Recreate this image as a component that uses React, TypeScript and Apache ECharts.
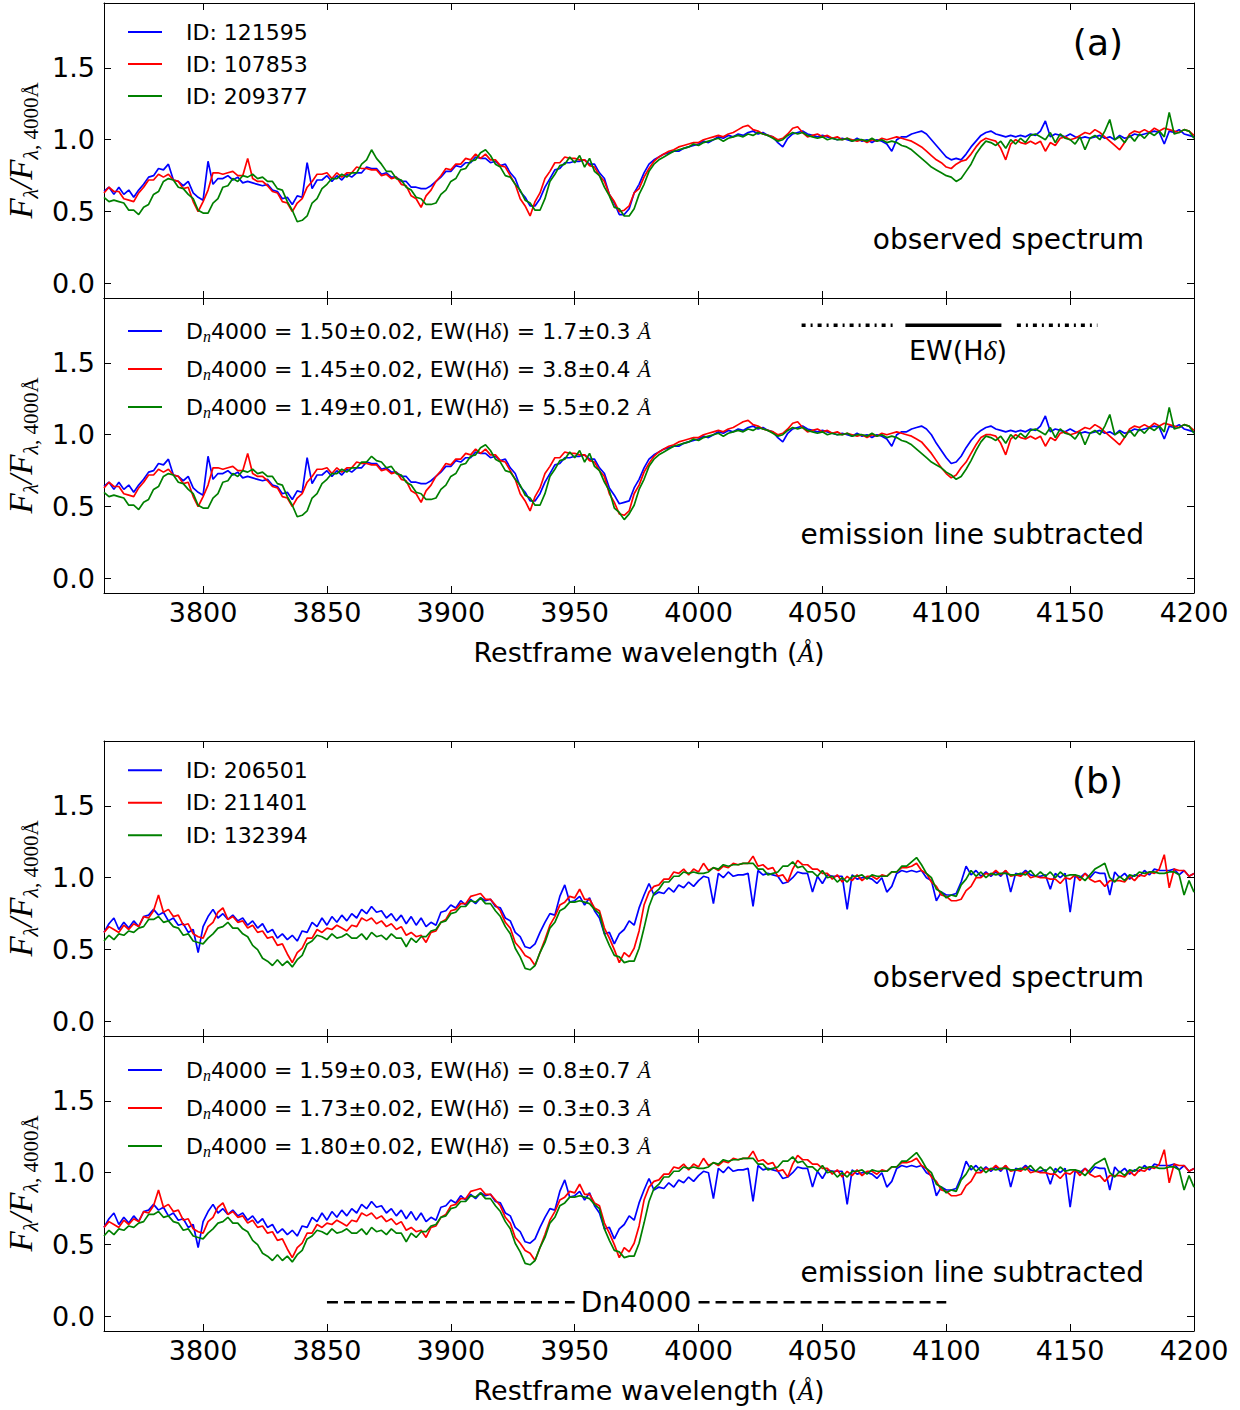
import React, { useEffect, useRef } from "react";
import * as echarts from "echarts";

// ---------- sampling grid (restframe wavelength, Å) ----------
const WAVE_START = 3760;
const WAVE_STEP = 2;
const N_POINTS = 221;
const WAVES: number[] = Array.from({ length: N_POINTS }, (_, i) => WAVE_START + WAVE_STEP * i);

const X_MIN = 3760;
const X_MAX = 4200;
const Y_MIN = -0.1;
const Y_MAX = 1.95;
const X_TICKS = [3800, 3850, 3900, 3950, 4000, 4050, 4100, 4150, 4200];
const Y_TICKS = [0, 0.5, 1.0, 1.5];

// ---------- panel (a): observed ----------
const a1Blue = [
  0.64, 0.67, 0.62, 0.67, 0.62, 0.65, 0.60, 0.65, 0.69, 0.74,
  0.75, 0.80, 0.79, 0.83, 0.72, 0.71, 0.68, 0.71, 0.63, 0.60,
  0.58, 0.85, 0.69, 0.73, 0.73, 0.75, 0.72, 0.74, 0.70, 0.71,
  0.70, 0.69, 0.68, 0.69, 0.65, 0.64, 0.59, 0.60, 0.55, 0.61,
  0.60, 0.84, 0.66, 0.72, 0.72, 0.75, 0.71, 0.75, 0.72, 0.76,
  0.74, 0.77, 0.77, 0.81, 0.80, 0.80, 0.76, 0.77, 0.74, 0.74,
  0.71, 0.71, 0.67, 0.67, 0.66, 0.66, 0.68, 0.71, 0.74, 0.78,
  0.78, 0.82, 0.81, 0.84, 0.84, 0.88, 0.87, 0.87, 0.84, 0.85,
  0.82, 0.83, 0.77, 0.73, 0.64, 0.60, 0.54, 0.54, 0.59, 0.67,
  0.73, 0.79, 0.80, 0.84, 0.84, 0.85, 0.85, 0.86, 0.83, 0.83,
  0.77, 0.73, 0.62, 0.56, 0.48, 0.48, 0.52, 0.63, 0.69, 0.77,
  0.83, 0.86, 0.88, 0.90, 0.91, 0.92, 0.92, 0.94, 0.95, 0.96,
  0.97, 0.99, 0.98, 1.00, 1.02, 1.01, 1.03, 1.02, 1.04, 1.03,
  1.05, 1.06, 1.04, 1.05, 1.03, 1.02, 0.98, 0.95, 1.01, 1.04,
  1.05, 1.06, 1.04, 1.03, 1.02, 1.03, 1.02, 1.01, 1.00, 1.01,
  1.00, 0.99, 1.01, 0.99, 1.00, 0.98, 1.00, 0.99, 0.97, 0.92,
  1.00, 1.02, 1.02, 1.04, 1.05, 1.06, 1.04, 1.00, 0.96, 0.92,
  0.88, 0.86, 0.87, 0.86, 0.90, 0.95, 0.99, 1.03, 1.05, 1.06,
  1.04, 1.03, 1.02, 1.03, 1.02, 1.03, 1.02, 1.04, 1.03, 1.06,
  1.13, 1.02, 1.04, 1.03, 1.02, 1.04, 1.02, 1.01, 1.02, 1.01,
  1.02, 1.03, 1.01, 1.02, 1.00, 1.03, 1.01, 1.02, 1.04, 1.03,
  1.04, 1.05, 1.06, 1.05, 0.97, 1.06, 1.05, 1.07, 1.04, 1.03,
  1.02,
];
const a1Red = [
  0.63, 0.67, 0.64, 0.64, 0.59, 0.58, 0.57, 0.63, 0.67, 0.72,
  0.72, 0.76, 0.74, 0.76, 0.72, 0.71, 0.66, 0.67, 0.57, 0.50,
  0.57, 0.65, 0.77, 0.77, 0.76, 0.77, 0.78, 0.75, 0.75, 0.87,
  0.73, 0.71, 0.71, 0.68, 0.64, 0.63, 0.57, 0.56, 0.50, 0.56,
  0.59, 0.67, 0.71, 0.76, 0.76, 0.77, 0.73, 0.77, 0.74, 0.77,
  0.77, 0.81, 0.80, 0.80, 0.79, 0.79, 0.75, 0.76, 0.73, 0.74,
  0.69, 0.68, 0.61, 0.59, 0.53, 0.61, 0.65, 0.71, 0.75, 0.80,
  0.79, 0.83, 0.83, 0.87, 0.86, 0.90, 0.87, 0.90, 0.86, 0.86,
  0.82, 0.81, 0.75, 0.69, 0.59, 0.54, 0.47, 0.57, 0.63, 0.73,
  0.78, 0.84, 0.84, 0.88, 0.87, 0.87, 0.86, 0.86, 0.82, 0.81,
  0.75, 0.71, 0.62, 0.57, 0.50, 0.51, 0.54, 0.63, 0.66, 0.74,
  0.80, 0.85, 0.88, 0.90, 0.92, 0.93, 0.95, 0.96, 0.97, 0.98,
  0.98, 1.00, 1.01, 1.02, 1.03, 1.02, 1.04, 1.05, 1.07, 1.09,
  1.10, 1.07, 1.06, 1.04, 1.03, 1.02, 1.00, 1.01, 1.04, 1.08,
  1.09, 1.05, 1.02, 1.03, 1.04, 1.02, 1.03, 1.01, 1.02, 1.00,
  1.01, 1.00, 0.99, 1.00, 0.98, 1.00, 0.99, 1.01, 1.00, 1.01,
  1.02, 1.01, 1.00, 0.99, 0.97, 0.95, 0.92, 0.89, 0.86, 0.84,
  0.81, 0.80, 0.83, 0.85, 0.86, 0.90, 0.95, 0.99, 1.01, 1.00,
  0.99, 0.94, 0.86, 0.97, 1.00, 0.98, 0.97, 0.99, 0.97, 0.99,
  0.92, 0.98, 0.96, 1.01, 1.02, 1.00, 1.01, 1.03, 1.05, 1.04,
  1.07, 1.05, 1.02, 0.99, 0.96, 0.93, 0.98, 1.04, 1.06, 1.05,
  1.07, 1.05, 1.08, 1.06, 1.08, 1.07, 1.06, 1.05, 1.07, 1.06,
  1.03,
];
const a1Green = [
  0.60, 0.57, 0.58, 0.57, 0.56, 0.51, 0.51, 0.48, 0.53, 0.55,
  0.62, 0.64, 0.71, 0.73, 0.72, 0.67, 0.66, 0.62, 0.59, 0.51,
  0.49, 0.49, 0.56, 0.59, 0.67, 0.68, 0.73, 0.71, 0.75, 0.74,
  0.76, 0.73, 0.74, 0.71, 0.71, 0.66, 0.65, 0.57, 0.51, 0.43,
  0.44, 0.47, 0.56, 0.59, 0.66, 0.69, 0.73, 0.73, 0.76, 0.74,
  0.77, 0.77, 0.83, 0.86, 0.93, 0.87, 0.83, 0.78, 0.78, 0.73,
  0.72, 0.67, 0.65, 0.60, 0.59, 0.55, 0.55, 0.56, 0.62, 0.65,
  0.71, 0.73, 0.79, 0.80, 0.85, 0.86, 0.91, 0.93, 0.89, 0.83,
  0.81, 0.75, 0.74, 0.69, 0.65, 0.58, 0.56, 0.51, 0.51, 0.59,
  0.71, 0.76, 0.82, 0.83, 0.88, 0.84, 0.89, 0.81, 0.87, 0.78,
  0.75, 0.67, 0.61, 0.53, 0.52, 0.47, 0.47, 0.52, 0.62, 0.69,
  0.78, 0.83, 0.86, 0.88, 0.90, 0.92, 0.93, 0.94, 0.95, 0.97,
  0.96, 0.98, 0.99, 1.00, 1.01, 0.99, 1.01, 1.02, 1.03, 1.02,
  1.04, 1.03, 1.05, 1.04, 1.03, 1.01, 0.99, 1.00, 1.03, 1.05,
  1.04, 1.05, 1.03, 1.02, 1.01, 1.02, 1.00, 1.01, 1.00, 1.00,
  1.01, 0.99, 1.00, 1.00, 0.99, 1.01, 0.99, 1.00, 0.98, 0.99,
  0.98, 0.96, 0.95, 0.93, 0.90, 0.87, 0.84, 0.81, 0.79, 0.77,
  0.75, 0.74, 0.71, 0.73, 0.78, 0.83, 0.90, 0.95, 0.99, 0.98,
  0.96, 0.99, 0.94, 1.00, 0.97, 1.01, 0.98, 1.03, 1.04, 1.02,
  1.00, 1.05, 0.98, 1.04, 1.01, 1.00, 0.97, 1.02, 0.93, 1.01,
  1.03, 1.00, 1.06, 1.14, 1.00, 1.02, 0.98, 1.03, 0.99, 1.04,
  1.01, 1.05, 1.03, 1.06, 1.02, 1.19, 1.04, 1.05, 1.07, 1.06,
  1.01,
];

// ---------- panel (a): emission line subtracted ----------
const a2Blue = [
  0.64, 0.67, 0.62, 0.67, 0.62, 0.65, 0.60, 0.65, 0.69, 0.74,
  0.75, 0.80, 0.79, 0.83, 0.72, 0.71, 0.68, 0.71, 0.63, 0.60,
  0.58, 0.85, 0.69, 0.73, 0.73, 0.75, 0.72, 0.74, 0.70, 0.71,
  0.70, 0.69, 0.68, 0.69, 0.65, 0.64, 0.59, 0.60, 0.55, 0.61,
  0.60, 0.84, 0.66, 0.72, 0.72, 0.75, 0.71, 0.75, 0.72, 0.76,
  0.74, 0.77, 0.77, 0.81, 0.80, 0.80, 0.76, 0.77, 0.74, 0.74,
  0.71, 0.71, 0.67, 0.67, 0.66, 0.66, 0.68, 0.71, 0.74, 0.78,
  0.78, 0.82, 0.81, 0.84, 0.84, 0.88, 0.87, 0.87, 0.84, 0.85,
  0.82, 0.83, 0.77, 0.73, 0.64, 0.60, 0.54, 0.54, 0.59, 0.67,
  0.73, 0.79, 0.80, 0.84, 0.84, 0.85, 0.85, 0.86, 0.83, 0.83,
  0.77, 0.73, 0.63, 0.58, 0.52, 0.53, 0.54, 0.63, 0.69, 0.77,
  0.83, 0.86, 0.88, 0.90, 0.91, 0.92, 0.92, 0.94, 0.95, 0.96,
  0.97, 0.99, 0.98, 1.00, 1.02, 1.01, 1.03, 1.02, 1.04, 1.03,
  1.05, 1.06, 1.04, 1.05, 1.03, 1.02, 0.98, 0.95, 1.01, 1.04,
  1.05, 1.06, 1.04, 1.03, 1.02, 1.03, 1.02, 1.01, 1.00, 1.01,
  1.00, 0.99, 1.01, 0.99, 1.00, 0.98, 1.00, 0.99, 0.97, 0.92,
  1.00, 1.02, 1.02, 1.04, 1.05, 1.06, 1.04, 1.00, 0.94, 0.89,
  0.84, 0.80, 0.81, 0.85, 0.91, 0.96, 1.00, 1.03, 1.05, 1.06,
  1.04, 1.03, 1.02, 1.03, 1.02, 1.03, 1.02, 1.04, 1.03, 1.06,
  1.13, 1.02, 1.04, 1.03, 1.02, 1.04, 1.02, 1.01, 1.02, 1.01,
  1.02, 1.03, 1.01, 1.02, 1.00, 1.03, 1.01, 1.02, 1.04, 1.03,
  1.04, 1.05, 1.06, 1.05, 0.97, 1.06, 1.05, 1.07, 1.04, 1.03,
  1.02,
];
const a2Red = [
  0.63, 0.67, 0.64, 0.64, 0.59, 0.58, 0.57, 0.63, 0.67, 0.72,
  0.72, 0.76, 0.74, 0.76, 0.72, 0.71, 0.66, 0.67, 0.57, 0.50,
  0.57, 0.65, 0.77, 0.77, 0.76, 0.77, 0.78, 0.75, 0.75, 0.87,
  0.73, 0.71, 0.71, 0.68, 0.64, 0.63, 0.57, 0.56, 0.50, 0.56,
  0.59, 0.67, 0.71, 0.76, 0.76, 0.77, 0.73, 0.77, 0.74, 0.77,
  0.77, 0.81, 0.80, 0.80, 0.79, 0.79, 0.75, 0.76, 0.73, 0.74,
  0.69, 0.68, 0.61, 0.59, 0.53, 0.61, 0.65, 0.71, 0.75, 0.80,
  0.79, 0.83, 0.83, 0.87, 0.86, 0.90, 0.87, 0.90, 0.86, 0.86,
  0.82, 0.81, 0.75, 0.69, 0.59, 0.54, 0.47, 0.57, 0.63, 0.73,
  0.78, 0.84, 0.84, 0.88, 0.87, 0.87, 0.86, 0.86, 0.82, 0.81,
  0.75, 0.71, 0.59, 0.53, 0.45, 0.44, 0.47, 0.59, 0.65, 0.74,
  0.80, 0.85, 0.88, 0.90, 0.92, 0.93, 0.95, 0.96, 0.97, 0.98,
  0.98, 1.00, 1.01, 1.02, 1.03, 1.02, 1.04, 1.05, 1.07, 1.09,
  1.10, 1.07, 1.06, 1.04, 1.03, 1.02, 1.00, 1.01, 1.04, 1.08,
  1.09, 1.05, 1.02, 1.03, 1.04, 1.02, 1.03, 1.01, 1.02, 1.00,
  1.01, 1.00, 0.99, 1.00, 0.98, 1.00, 0.99, 1.01, 1.00, 1.01,
  1.02, 1.01, 1.00, 0.99, 0.97, 0.95, 0.91, 0.87, 0.82, 0.77,
  0.73, 0.70, 0.72, 0.77, 0.81, 0.87, 0.93, 0.98, 1.00, 1.00,
  0.99, 0.94, 0.86, 0.97, 1.00, 0.98, 0.97, 0.99, 0.97, 0.99,
  0.92, 0.98, 0.96, 1.01, 1.02, 1.00, 1.01, 1.03, 1.05, 1.04,
  1.07, 1.05, 1.02, 0.99, 0.96, 0.93, 0.98, 1.04, 1.06, 1.05,
  1.07, 1.05, 1.08, 1.06, 1.08, 1.07, 1.06, 1.05, 1.07, 1.06,
  1.03,
];
const a2Green = [
  0.60, 0.57, 0.58, 0.57, 0.56, 0.51, 0.51, 0.48, 0.53, 0.55,
  0.62, 0.64, 0.71, 0.73, 0.72, 0.67, 0.66, 0.62, 0.59, 0.51,
  0.49, 0.49, 0.56, 0.59, 0.67, 0.68, 0.73, 0.71, 0.75, 0.74,
  0.76, 0.73, 0.74, 0.71, 0.71, 0.66, 0.65, 0.57, 0.51, 0.43,
  0.44, 0.47, 0.56, 0.59, 0.66, 0.69, 0.73, 0.73, 0.76, 0.74,
  0.77, 0.77, 0.81, 0.81, 0.85, 0.82, 0.81, 0.77, 0.78, 0.73,
  0.72, 0.67, 0.65, 0.60, 0.59, 0.55, 0.55, 0.56, 0.62, 0.65,
  0.71, 0.73, 0.79, 0.80, 0.85, 0.86, 0.91, 0.93, 0.89, 0.83,
  0.81, 0.75, 0.74, 0.69, 0.65, 0.58, 0.56, 0.51, 0.51, 0.59,
  0.71, 0.76, 0.82, 0.83, 0.88, 0.84, 0.89, 0.81, 0.87, 0.78,
  0.75, 0.67, 0.61, 0.49, 0.46, 0.41, 0.45, 0.51, 0.62, 0.69,
  0.78, 0.83, 0.86, 0.88, 0.90, 0.92, 0.93, 0.94, 0.95, 0.97,
  0.96, 0.98, 0.99, 1.00, 1.01, 0.99, 1.01, 1.02, 1.03, 1.02,
  1.04, 1.03, 1.05, 1.04, 1.03, 1.01, 0.99, 1.00, 1.03, 1.05,
  1.04, 1.05, 1.03, 1.02, 1.01, 1.02, 1.00, 1.01, 1.00, 1.00,
  1.01, 0.99, 1.00, 1.00, 0.99, 1.01, 0.99, 1.00, 0.98, 0.99,
  0.98, 0.96, 0.95, 0.93, 0.90, 0.87, 0.84, 0.81, 0.79, 0.77,
  0.74, 0.72, 0.69, 0.71, 0.76, 0.82, 0.89, 0.95, 0.99, 0.98,
  0.96, 0.99, 0.94, 1.00, 0.97, 1.01, 0.98, 1.03, 1.04, 1.02,
  1.00, 1.05, 0.98, 1.04, 1.01, 1.00, 0.97, 1.02, 0.93, 1.01,
  1.03, 1.00, 1.06, 1.14, 1.00, 1.02, 0.98, 1.03, 0.99, 1.04,
  1.01, 1.05, 1.03, 1.06, 1.02, 1.19, 1.04, 1.05, 1.07, 1.06,
  1.01,
];

// ---------- panel (b): observed (the emission-subtracted curves look identical) ----------
const b1Blue = [
  0.62, 0.68, 0.72, 0.64, 0.69, 0.65, 0.70, 0.66, 0.73, 0.74,
  0.78, 0.74, 0.76, 0.70, 0.72, 0.67, 0.68, 0.62, 0.64, 0.48,
  0.66, 0.73, 0.78, 0.72, 0.75, 0.71, 0.74, 0.70, 0.72, 0.67,
  0.70, 0.65, 0.68, 0.62, 0.64, 0.58, 0.61, 0.57, 0.60, 0.56,
  0.63, 0.62, 0.69, 0.66, 0.72, 0.67, 0.73, 0.69, 0.74, 0.70,
  0.75, 0.72, 0.78, 0.75, 0.80, 0.76, 0.77, 0.72, 0.75, 0.70,
  0.74, 0.68, 0.73, 0.67, 0.72, 0.66, 0.69, 0.67, 0.76, 0.77,
  0.81, 0.79, 0.84, 0.81, 0.85, 0.82, 0.86, 0.84, 0.85, 0.80,
  0.79, 0.72, 0.70, 0.62, 0.59, 0.52, 0.51, 0.54, 0.62, 0.69,
  0.75, 0.74, 0.87, 0.95, 0.83, 0.84, 0.87, 0.81, 0.86, 0.77,
  0.72, 0.61, 0.62, 0.54, 0.61, 0.64, 0.70, 0.67, 0.79, 0.88,
  0.96, 0.88, 0.90, 0.89, 0.93, 0.90, 0.95, 0.93, 0.97, 0.94,
  0.98, 1.01, 1.00, 0.82, 1.03, 1.00, 1.04, 1.01, 1.02, 1.02,
  1.03, 0.80, 1.05, 1.02, 1.03, 1.02, 1.01, 0.96, 0.97, 1.00,
  1.04, 1.03, 1.03, 0.90, 1.01, 0.96, 1.02, 1.01, 1.01, 1.01,
  0.78, 1.02, 0.99, 1.00, 1.00, 0.99, 0.96, 1.00, 0.90, 0.94,
  1.03, 1.05, 1.04, 1.05, 1.04, 1.05, 1.00, 0.98, 0.84, 0.90,
  0.88, 0.88, 0.89, 0.97, 1.08, 1.02, 1.05, 1.01, 1.04, 1.01,
  1.04, 1.01, 1.05, 0.90, 1.03, 1.02, 1.05, 1.02, 1.01, 1.01,
  1.02, 0.92, 1.03, 1.00, 1.03, 0.76, 1.01, 1.00, 1.03, 1.00,
  1.04, 1.03, 1.03, 0.88, 1.04, 1.00, 1.03, 0.99, 1.02, 1.01,
  1.05, 1.02, 1.06, 1.05, 1.05, 1.05, 1.06, 1.02, 1.05, 1.01,
  1.03,
];
const b1Red = [
  0.62, 0.66, 0.64, 0.62, 0.67, 0.64, 0.68, 0.66, 0.73, 0.72,
  0.77, 0.88, 0.76, 0.78, 0.73, 0.74, 0.67, 0.68, 0.61, 0.59,
  0.58, 0.66, 0.69, 0.76, 0.79, 0.71, 0.73, 0.69, 0.70, 0.65,
  0.67, 0.62, 0.63, 0.58, 0.59, 0.53, 0.54, 0.47, 0.41, 0.48,
  0.51, 0.58, 0.58, 0.64, 0.62, 0.65, 0.64, 0.67, 0.65, 0.63,
  0.67, 0.66, 0.72, 0.70, 0.72, 0.68, 0.70, 0.66, 0.68, 0.64,
  0.66, 0.60, 0.62, 0.59, 0.60, 0.55, 0.62, 0.63, 0.69, 0.71,
  0.77, 0.78, 0.82, 0.82, 0.87, 0.88, 0.89, 0.85, 0.85, 0.81,
  0.77, 0.69, 0.65, 0.55, 0.51, 0.46, 0.44, 0.39, 0.48, 0.57,
  0.67, 0.73, 0.81, 0.83, 0.87, 0.86, 0.92, 0.85, 0.85, 0.79,
  0.77, 0.65, 0.58, 0.50, 0.41, 0.48, 0.45, 0.51, 0.63, 0.81,
  0.90, 0.94, 0.95, 0.99, 0.99, 1.04, 1.03, 1.06, 1.02, 1.06,
  1.04, 1.10, 1.05, 1.07, 1.05, 1.08, 1.07, 1.10, 1.09, 1.10,
  1.10, 1.15, 1.08, 1.09, 1.06, 1.07, 1.01, 1.02, 0.97, 1.06,
  1.12, 1.09, 1.09, 1.06, 1.06, 1.03, 1.03, 0.99, 1.02, 0.97,
  1.01, 0.98, 1.02, 0.98, 1.01, 1.01, 0.99, 1.02, 1.01, 1.04,
  1.04, 1.07, 1.07, 1.08, 1.10, 1.05, 1.03, 0.97, 0.94, 0.88,
  0.87, 0.84, 0.84, 0.85, 0.91, 0.94, 1.00, 1.00, 1.03, 1.02,
  1.05, 1.02, 1.05, 1.01, 1.02, 1.01, 1.04, 1.00, 1.01, 1.00,
  1.00, 0.99, 0.99, 0.96, 1.00, 0.99, 1.02, 0.98, 1.03, 0.99,
  0.97, 0.98, 0.94, 0.98, 0.98, 0.98, 0.97, 1.01, 0.98, 1.02,
  1.01, 1.04, 1.03, 1.06, 1.16, 0.93, 1.06, 1.05, 1.05, 1.01,
  1.03,
];
const b1Green = [
  0.56, 0.60, 0.57, 0.61, 0.60, 0.63, 0.62, 0.65, 0.66, 0.71,
  0.71, 0.73, 0.69, 0.70, 0.66, 0.65, 0.60, 0.61, 0.56, 0.55,
  0.54, 0.58, 0.61, 0.65, 0.66, 0.69, 0.65, 0.65, 0.61, 0.59,
  0.53, 0.50, 0.44, 0.42, 0.39, 0.43, 0.39, 0.42, 0.38, 0.43,
  0.46, 0.54, 0.56, 0.60, 0.59, 0.57, 0.61, 0.58, 0.59, 0.61,
  0.58, 0.58, 0.61, 0.57, 0.62, 0.59, 0.60, 0.57, 0.61, 0.58,
  0.58, 0.52, 0.58, 0.55, 0.59, 0.59, 0.63, 0.64, 0.69, 0.70,
  0.75, 0.76, 0.80, 0.80, 0.84, 0.83, 0.86, 0.82, 0.82, 0.77,
  0.73, 0.66, 0.61, 0.51, 0.45, 0.37, 0.36, 0.39, 0.48, 0.55,
  0.65, 0.69, 0.77, 0.79, 0.83, 0.83, 0.84, 0.83, 0.82, 0.78,
  0.75, 0.61, 0.53, 0.46, 0.45, 0.41, 0.42, 0.42, 0.51, 0.65,
  0.80, 0.89, 0.92, 0.97, 0.97, 1.01, 1.01, 1.04, 1.03, 1.04,
  1.03, 1.03, 1.04, 1.07, 1.06, 1.09, 1.08, 1.09, 1.09, 1.10,
  1.10, 1.10, 1.06, 1.06, 1.02, 1.03, 1.04, 1.08, 1.08, 1.11,
  1.07, 1.08, 1.04, 1.04, 1.01, 1.05, 1.00, 1.01, 0.97, 1.00,
  0.97, 1.01, 1.01, 1.02, 0.99, 1.02, 1.01, 1.01, 1.01, 1.04,
  1.04, 1.08, 1.08, 1.11, 1.14, 1.09, 1.03, 1.00, 0.92, 0.90,
  0.86, 0.88, 0.87, 0.95, 0.99, 1.05, 1.01, 1.04, 1.00, 1.03,
  1.02, 1.03, 1.03, 1.02, 1.02, 1.03, 1.02, 1.05, 1.01, 1.04,
  1.01, 1.04, 1.00, 1.04, 1.01, 1.02, 1.02, 1.01, 0.98, 1.02,
  1.06, 1.08, 1.10, 1.00, 0.97, 1.01, 0.98, 1.02, 1.01, 1.04,
  1.03, 1.04, 1.04, 1.03, 1.03, 1.04, 1.04, 1.02, 0.88, 0.98,
  0.90,
];
const b2Blue = b1Blue;
const b2Red = b1Red;
const b2Green = b1Green;

// ---------- legend labels ----------
const namesA1 = ["ID: 121595", "ID: 107853", "ID: 209377"];
const namesA2 = [
  "Dn4000 = 1.50±0.02, EW(Hδ) = 1.7±0.3 Å",
  "Dn4000 = 1.45±0.02, EW(Hδ) = 3.8±0.4 Å",
  "Dn4000 = 1.49±0.01, EW(Hδ) = 5.5±0.2 Å",
];
const namesB1 = ["ID: 206501", "ID: 211401", "ID: 132394"];
const namesB2 = [
  "Dn4000 = 1.59±0.03, EW(Hδ) = 0.8±0.7 Å ",
  "Dn4000 = 1.73±0.02, EW(Hδ) = 0.3±0.3 Å ",
  "Dn4000 = 1.80±0.02, EW(Hδ) = 0.5±0.3 Å ",
];

// ---------- index bandpasses ----------
const EW_BLUE_CONT = [4041.6, 4079.75];
const EW_LINE_BAND = [4083.5, 4122.25];
const EW_RED_CONT = [4128.5, 4161.0];
const EW_LEVEL = 1.76;
const DN_BLUE_BAND = [3850, 3950];
const DN_RED_BAND = [4000, 4100];
const DN_LEVEL = 0.1;

const COLORS = ["#0000ff", "#ff0000", "#008000"];
const FONT = "DejaVu Sans";
const SERIF = "Liberation Serif";

const GRID_TOPS = [3, 298, 741, 1036];
const GRID_LEFT = 104;
const GRID_W = 1090;
const GRID_H = 295;

function buildOption() {
  const grids = GRID_TOPS.map((t) => ({
    left: GRID_LEFT,
    top: t,
    width: GRID_W,
    height: GRID_H,
    containLabel: false,
    outerBoundsMode: "none",
  }));

  const axisLine = { show: true, onZero: false, lineStyle: { color: "#000", width: 1 } };
  const tickStyle = { color: "#000", width: 1 };

  const xAxes: any[] = [];
  const yAxes: any[] = [];
  for (let i = 0; i < 4; i++) {
    const labelled = i === 1 || i === 3;
    xAxes.push({
      type: "value",
      gridIndex: i,
      min: X_MIN,
      max: X_MAX,
      position: "bottom",
      axisLine,
      axisTick: { show: true, inside: true, length: 7, customValues: X_TICKS, lineStyle: tickStyle },
      axisLabel: {
        show: labelled,
        customValues: X_TICKS,
        margin: 6,
        color: "#000",
        fontSize: 27,
        fontFamily: FONT,
        formatter: (v: number) => String(v),
      },
      splitLine: { show: false },
      name: labelled ? "Restframe wavelength ({a|Å})" : "",
      nameLocation: "middle",
      nameGap: 46,
      nameTextStyle: {
        color: "#000",
        fontSize: 27,
        fontFamily: FONT,
        rich: { a: { fontSize: 27, fontFamily: SERIF, fontStyle: "italic", color: "#000" } },
      },
    });
    yAxes.push({
      type: "value",
      gridIndex: i,
      min: Y_MIN,
      max: Y_MAX,
      position: "left",
      axisLine,
      axisTick: { show: true, inside: true, length: 7, customValues: Y_TICKS, lineStyle: tickStyle },
      axisLabel: {
        customValues: Y_TICKS,
        margin: 9,
        color: "#000",
        fontSize: 27,
        fontFamily: FONT,
        formatter: (v: number) => v.toFixed(1),
      },
      splitLine: { show: false },
      name: "{f|F}{s|λ}{f|/F}{s|λ}{t|, 4000Å}",
      nameLocation: "middle",
      nameRotate: 90,
      nameGap: 57,
      nameTextStyle: {
        color: "#000",
        rich: {
          f: { fontFamily: SERIF, fontStyle: "italic", fontSize: 33, lineHeight: 40, color: "#000" },
          s: { fontFamily: SERIF, fontStyle: "italic", fontSize: 22, lineHeight: 22, verticalAlign: "bottom", color: "#000" },
          t: { fontFamily: SERIF, fontSize: 21, lineHeight: 22, verticalAlign: "bottom", color: "#000" },
        },
      },
    });
  }
  for (let i = 0; i < 4; i++) {
    xAxes.push({
      type: "value",
      gridIndex: i,
      min: X_MIN,
      max: X_MAX,
      position: "top",
      axisLine,
      axisTick: { show: true, inside: true, length: 7, customValues: X_TICKS, lineStyle: tickStyle },
      axisLabel: { show: false },
      splitLine: { show: false },
    });
    yAxes.push({
      type: "value",
      gridIndex: i,
      min: Y_MIN,
      max: Y_MAX,
      position: "right",
      axisLine,
      axisTick: { show: true, inside: true, length: 7, customValues: Y_TICKS, lineStyle: tickStyle },
      axisLabel: { show: false },
      splitLine: { show: false },
    });
  }

  const panels: { grid: number; names: string[]; arrays: number[][] }[] = [
    { grid: 0, names: namesA1, arrays: [a1Blue, a1Red, a1Green] },
    { grid: 1, names: namesA2, arrays: [a2Blue, a2Red, a2Green] },
    { grid: 2, names: namesB1, arrays: [b1Blue, b1Red, b1Green] },
    { grid: 3, names: namesB2, arrays: [b2Blue, b2Red, b2Green] },
  ];

  const series: any[] = [];
  panels.forEach((p) => {
    p.arrays.forEach((arr, k) => {
      series.push({
        type: "line",
        name: p.names[k],
        xAxisIndex: p.grid,
        yAxisIndex: p.grid,
        data: WAVES.map((w, i) => [w, arr[i]]),
        showSymbol: false,
        symbol: "none",
        silent: true,
        color: COLORS[k],
        itemStyle: { color: COLORS[k] },
        lineStyle: { color: COLORS[k], width: 1.7 },
        z: 2 + k,
      });
    });
  });

  const band = (xs: number[], level: number, grid: number, width: number, type: any) => ({
    type: "line",
    xAxisIndex: grid,
    yAxisIndex: grid,
    data: xs.map((w) => [w, level]),
    showSymbol: false,
    symbol: "none",
    silent: true,
    lineStyle: { color: "#000", width, type, cap: "butt" },
    z: 6,
  });
  series.push(band(EW_BLUE_CONT, EW_LEVEL, 1, 3.5, [4, 5, 2, 5]));
  series.push(band(EW_LINE_BAND, EW_LEVEL, 1, 3.5, "solid"));
  series.push(band(EW_RED_CONT, EW_LEVEL, 1, 3.5, [4, 5, 2, 5]));
  series.push(band(DN_BLUE_BAND, DN_LEVEL, 3, 2.5, [11, 6]));
  series.push(band(DN_RED_BAND, DN_LEVEL, 3, 2.5, [11, 6]));

  const legendBase = {
    orient: "vertical",
    left: 128,
    itemWidth: 34,
    itemHeight: 2,
    itemGap: 0,
    icon: "rect",
    selectedMode: false,
    padding: 0,
  };
  const richLegend = {
    n: { fontFamily: SERIF, fontStyle: "italic", fontSize: 16, lineHeight: 16, verticalAlign: "middle", padding: [10, 0, 0, 0], color: "#000" },
    d: { fontFamily: SERIF, fontStyle: "italic", fontSize: 23, color: "#000" },
    a: { fontFamily: SERIF, fontStyle: "italic", fontSize: 22, color: "#000" },
  };
  const richFormatter = (name: string) =>
    name.trim().replace("Dn", "D{n|n}").replace("δ", "{d|δ}").replace("Å", "{a|Å}");

  const legends = [
    {
      ...legendBase,
      top: 16,
      data: namesA1,
      textStyle: { fontSize: 22, fontFamily: FONT, color: "#000", lineHeight: 32, padding: [0, 0, 0, 19] },
    },
    {
      ...legendBase,
      top: 312,
      data: namesA2,
      formatter: richFormatter,
      textStyle: { fontSize: 22, fontFamily: FONT, color: "#000", lineHeight: 38, padding: [0, 0, 0, 19], rich: richLegend },
    },
    {
      ...legendBase,
      top: 754,
      data: namesB1,
      textStyle: { fontSize: 22, fontFamily: FONT, color: "#000", lineHeight: 32.5, padding: [0, 0, 0, 19] },
    },
    {
      ...legendBase,
      top: 1051,
      data: namesB2,
      formatter: richFormatter,
      textStyle: { fontSize: 22, fontFamily: FONT, color: "#000", lineHeight: 38, padding: [0, 0, 0, 19], rich: richLegend },
    },
  ];

  const txt = (text: string, x: number, y: number, size: number, align: string) => ({
    type: "text",
    x,
    y,
    z: 100,
    silent: true,
    style: {
      text,
      fontSize: size,
      fontFamily: FONT,
      fill: "#000",
      align,
      textAlign: align,
      verticalAlign: "middle",
      textVerticalAlign: "middle",
    },
  });

  const graphic = [
    txt("(a)", 1123, 42, 36, "right"),
    txt("observed spectrum", 1144, 239, 28, "right"),
    txt("emission line subtracted", 1144, 534, 28, "right"),
    txt("(b)", 1123, 780, 36, "right"),
    txt("observed spectrum", 1144, 977, 28, "right"),
    txt("emission line subtracted", 1144, 1272, 28, "right"),
    {
      type: "text",
      x: 958,
      y: 350,
      z: 100,
      silent: true,
      style: {
        text: "EW(H{d|δ})",
        fontSize: 27,
        fontFamily: FONT,
        fill: "#000",
        align: "center",
        textAlign: "center",
        verticalAlign: "middle",
        textVerticalAlign: "middle",
        rich: { d: { fontFamily: SERIF, fontStyle: "italic", fontSize: 28, fill: "#000", color: "#000" } },
      },
    },
    txt("Dn4000", 636, 1302, 28, "center"),
  ];

  return {
    animation: false,
    backgroundColor: "#ffffff",
    grid: grids,
    xAxis: xAxes,
    yAxis: yAxes,
    legend: legends,
    series,
    graphic,
  };
}

export default function App() {
  const ref = useRef<HTMLDivElement>(null);
  useEffect(() => {
    if (!ref.current) return;
    const chart = echarts.init(ref.current, undefined, { renderer: "svg" });
    chart.setOption(buildOption() as any);
    return () => chart.dispose();
  }, []);
  return (
    <div
      ref={ref}
      style={{ position: "absolute", left: 0, top: 0, width: 1240, height: 1410, background: "#fff" }}
    />
  );
}
